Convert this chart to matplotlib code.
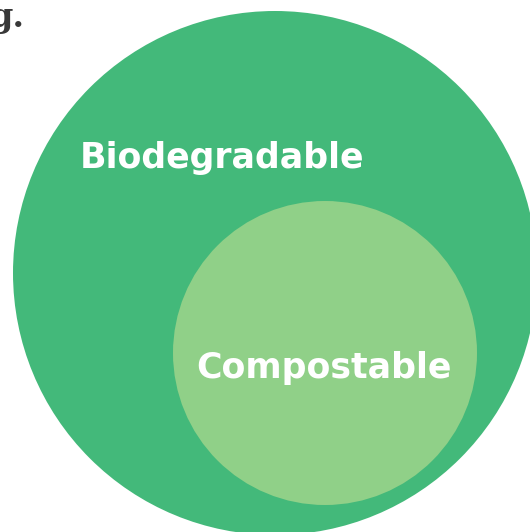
import matplotlib
matplotlib.use("Agg")
import matplotlib.pyplot as plt
from matplotlib.patches import Circle

# Data
labels = ["Biodegradable", "Compostable"]
centers = [(275, 273), (325, 353)]
radii = [262, 152]
colors = ["#43B97A", "#90D088"]
label_pos = [(222, 158), (324, 368)]
title_fragment = "g."

fig = plt.figure(figsize=(5.30, 5.32), dpi=100)
ax = fig.add_axes([0, 0, 1, 1])
ax.set_xlim(0, 530)
ax.set_ylim(532, 0)
ax.set_aspect("equal")
ax.axis("off")

for c, r, col in zip(centers, radii, colors):
    ax.add_patch(Circle(c, r, facecolor=col, edgecolor="none"))

for lab, (x, y) in zip(labels, label_pos):
    ax.text(x, y, lab, color="white", fontsize=25, fontweight="bold",
            family=["DejaVu Sans"], ha="center", va="center")

ax.text(25, 14, title_fragment, color="#383838", fontsize=24, fontweight="bold",
        family=["DejaVu Serif"], ha="right", va="center_baseline")

fig.savefig("out.png", dpi=100)
